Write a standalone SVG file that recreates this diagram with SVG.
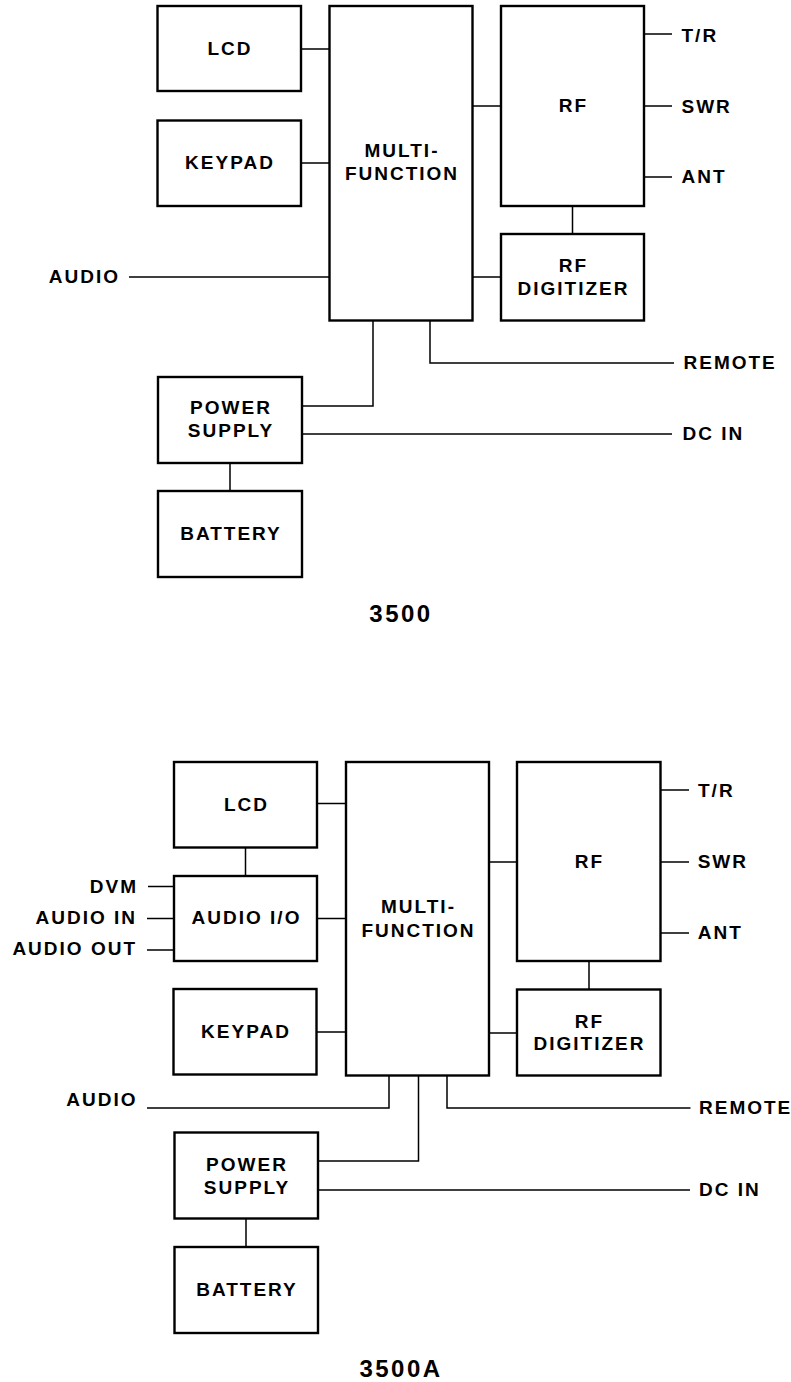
<svg xmlns="http://www.w3.org/2000/svg" width="791" height="1382" viewBox="0 0 791 1382">
<style>
.box{fill:#fff;stroke:#000;stroke-width:2.4}
.ln{fill:none;stroke:#000;stroke-width:1.5}
text{font-family:"Liberation Sans",Arial,Helvetica,sans-serif;font-weight:bold;font-size:19px;letter-spacing:2px;fill:#000}
.c{text-anchor:middle}
.e{text-anchor:end}
.t{font-size:24px;letter-spacing:2.5px}
</style>
<rect width="791" height="1382" fill="#fff"/>
<g id="connectors">
<path class="ln" d="M301 49H329.5M301 163H329.5M129 277H329.5M472.5 106H501M472.5 277H501M572.5 206V234M644 34H672M644 106H672M644 177H672M373 320.5V406H302M430 320.5V363H674M302 434H672M230 463V491"/>
<path class="ln" d="M317 803.5H346M245.5 847.5V876M148 886.5H174M147 918.5H174M147 950H174M317 918.5H346M316.5 1032H346M489 862H517M489 1033H517M589 961V989.5M660.5 790H689M660.5 862H689M660.5 933H689M389 1075.5V1108H147M418.5 1075.5V1161H318M447 1075.5V1108H690.5M318 1190H690M246 1218.5V1247"/>
</g>
<g id="d1">
<g id="lcd1"><rect class="box" x="157.5" y="6" width="143.5" height="85"/><text class="c" x="230" y="55">LCD</text></g>
<g id="keypad1"><rect class="box" x="157.5" y="120.5" width="143.5" height="85.5"/><text class="c" x="230" y="169.3">KEYPAD</text></g>
<g id="mf1"><rect class="box" x="329.5" y="6" width="143" height="314.5"/><text class="c" x="402" y="157.3">MULTI-</text><text class="c" x="402" y="180">FUNCTION</text></g>
<g id="rf1"><rect class="box" x="501" y="6" width="143" height="200"/><text class="c" x="573.5" y="112.3">RF</text></g>
<g id="rfdig1"><rect class="box" x="501" y="234" width="143" height="86.5"/><text class="c" x="573.5" y="271.7">RF</text><text class="c" x="573.5" y="295.3">DIGITIZER</text></g>
<g id="ps1"><rect class="box" x="158" y="377" width="144" height="86"/><text class="c" x="231" y="414.3">POWER</text><text class="c" x="231" y="437">SUPPLY</text></g>
<g id="bat1"><rect class="box" x="158" y="491" width="144" height="86"/><text class="c" x="231" y="540.3">BATTERY</text></g>
<g id="labels1">
<text class="e" x="120" y="283.3">AUDIO</text>
<text x="681.5" y="41.7">T/R</text>
<text x="681.5" y="112.7">SWR</text>
<text x="681.5" y="183.3">ANT</text>
<text x="683.5" y="369.3">REMOTE</text>
<text x="682.5" y="440">DC IN</text>
<text class="c t" x="401" y="622.3">3500</text>
</g>
</g>
<g id="d2">
<g id="lcd2"><rect class="box" x="174" y="762" width="143" height="85.5"/><text class="c" x="246.5" y="810.7">LCD</text></g>
<g id="aio2"><rect class="box" x="174" y="876" width="143" height="85"/><text class="c" x="246.5" y="924">AUDIO I/O</text></g>
<g id="keypad2"><rect class="box" x="173.5" y="989" width="143" height="85.5"/><text class="c" x="246" y="1038.3">KEYPAD</text></g>
<g id="mf2"><rect class="box" x="346" y="762" width="143" height="313.5"/><text class="c" x="418.5" y="913.3">MULTI-</text><text class="c" x="418.5" y="936.7">FUNCTION</text></g>
<g id="rf2"><rect class="box" x="517" y="762" width="143.5" height="199"/><text class="c" x="589.5" y="867.7">RF</text></g>
<g id="rfdig2"><rect class="box" x="517" y="989.5" width="143.5" height="86"/><text class="c" x="589.5" y="1028.3">RF</text><text class="c" x="589.5" y="1050">DIGITIZER</text></g>
<g id="ps2"><rect class="box" x="174.5" y="1132.5" width="143.5" height="86"/><text class="c" x="247" y="1170.7">POWER</text><text class="c" x="247" y="1193.7">SUPPLY</text></g>
<g id="bat2"><rect class="box" x="174.5" y="1247" width="143.5" height="86"/><text class="c" x="247" y="1295.7">BATTERY</text></g>
<g id="labels2">
<text class="e" x="138" y="892.7">DVM</text>
<text class="e" x="137" y="924">AUDIO IN</text>
<text class="e" x="137" y="955">AUDIO OUT</text>
<text class="e" x="137.5" y="1105.7">AUDIO</text>
<text x="698" y="796.7">T/R</text>
<text x="697.7" y="867.7">SWR</text>
<text x="697.7" y="939.3">ANT</text>
<text x="699" y="1114.3">REMOTE</text>
<text x="699" y="1195.7">DC IN</text>
<text class="c t" x="401" y="1377.3">3500A</text>
</g>
</g>
</svg>
